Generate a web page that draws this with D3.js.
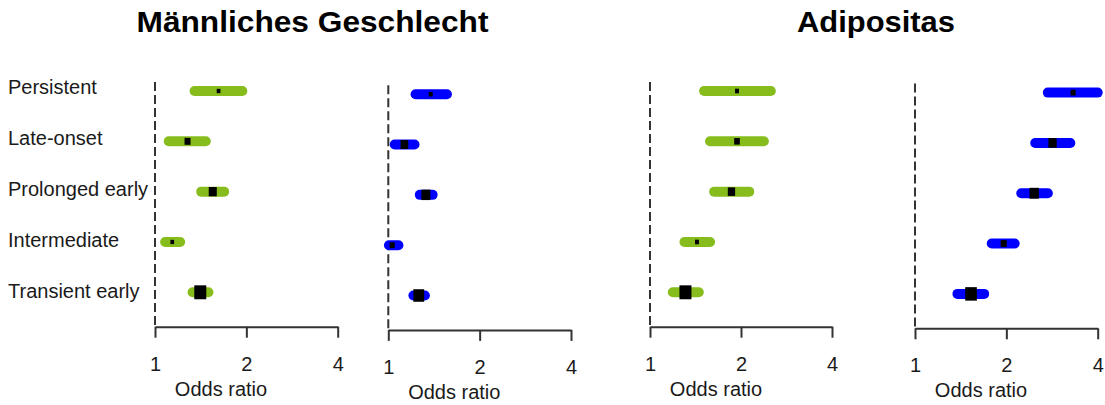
<!DOCTYPE html>
<html>
<head>
<meta charset="utf-8">
<script src="https://cdn.jsdelivr.net/npm/d3@7"></script>
<style>
  html, body { margin: 0; padding: 0; background: #fff; }
  svg { display: block; font-family: "Liberation Sans", Arial, sans-serif; }
</style>
</head>
<body>
<svg id="chart" width="1105" height="405"></svg>
<script>
// Trajectory groups (rows, top to bottom)
const categories = ["Persistent", "Late-onset", "Prolonged early", "Intermediate", "Transient early"];
const tickValues = [1, 2, 4];
const axisTitle = "Odds ratio";
const groupTitles = ["Männliches Geschlecht", "Adipositas"];

// Männliches Geschlecht – first model
const sexOR1    = [1.62, 1.28, 1.55, 1.14, 1.41];
const sexLower1 = [1.35, 1.11, 1.42, 1.08, 1.33];
const sexUpper1 = [1.94, 1.47, 1.69, 1.21, 1.50];
const sexWeight1 = [0.31, 0.50, 0.67, 0.31, 1.00];

// Männliches Geschlecht – second model
const sexOR2    = [1.38, 1.13, 1.33, 1.03, 1.26];
const sexLower2 = [1.23, 1.05, 1.27, 1.005, 1.21];
const sexUpper2 = [1.56, 1.22, 1.40, 1.08, 1.32];
const sexWeight2 = [0.33, 0.64, 0.75, 0.42, 0.90];

// Adipositas – first model
const obOR1    = [1.94, 1.94, 1.86, 1.43, 1.31];
const obLower1 = [1.51, 1.58, 1.63, 1.30, 1.19];
const obUpper1 = [2.51, 2.38, 2.13, 1.58, 1.45];
const obWeight1 = [0.33, 0.47, 0.61, 0.33, 1.00];

// Adipositas – second model
const obOR2    = [3.32, 2.84, 2.47, 1.96, 1.53];
const obLower2 = [2.74, 2.49, 2.24, 1.79, 1.38];
const obUpper2 = [4.00, 3.25, 2.74, 2.13, 1.69];
const obWeight2 = [0.42, 0.69, 0.78, 0.50, 0.97];

const GREEN = "#86bd1c";
const BLUE = "#0000ff";
const INK = "#1a1a1a";
const AXIS = "#333333";

const panels = [
  { or: sexOR1, lo: sexLower1, hi: sexUpper1, w: sexWeight1, color: GREEN, x0: 155,   x1: 337.7, dy: 0 },
  { or: sexOR2, lo: sexLower2, hi: sexUpper2, w: sexWeight2, color: BLUE,  x0: 388.3, x1: 571,   dy: 3.2 },
  { or: obOR1,  lo: obLower1,  hi: obUpper1,  w: obWeight1,  color: GREEN, x0: 650,   x1: 832,   dy: 0 },
  { or: obOR2,  lo: obLower2,  hi: obUpper2,  w: obWeight2,  color: BLUE,  x0: 915,   x1: 1097.7, dy: 1.6 }
];

const svg = d3.select("#chart");

// Titles over each pair of panels
const titleCenters = [312.5, 876];
const titleWidths = [352, 158];
groupTitles.forEach((t, i) => {
  svg.append("text")
    .attr("x", titleCenters[i])
    .attr("y", 32)
    .attr("text-anchor", "middle")
    .attr("font-size", 30)
    .attr("font-weight", "bold")
    .attr("fill", "#000")
    .attr("textLength", titleWidths[i])
    .attr("lengthAdjust", "spacingAndGlyphs")
    .text(t);
});

// Row labels on the left
const labelY = d3.scalePoint().domain(categories).range([93.5, 297.5]);
svg.append("g").selectAll("text")
  .data(categories)
  .join("text")
  .attr("x", 8)
  .attr("y", d => labelY(d))
  .attr("font-size", 20)
  .attr("fill", INK)
  .text(d => d);

const boxSize = d3.scaleLinear().domain([0, 1]).range([0, 12]);

panels.forEach(p => {
  const x = d3.scaleLog().base(2).domain([1, 4]).range([p.x0, p.x1]);
  const y = d3.scalePoint().domain(categories).range([91 + p.dy, 292.3 + p.dy]);
  const axisY = 326.7 + p.dy;
  const g = svg.append("g");

  // Reference line at OR = 1
  g.append("line")
    .attr("x1", x(1)).attr("x2", x(1))
    .attr("y1", 82 + p.dy).attr("y2", axisY)
    .attr("stroke", AXIS)
    .attr("stroke-width", 2)
    .attr("stroke-dasharray", "9,4");

  // Bottom axis
  const axis = d3.axisBottom(x)
    .tickValues(tickValues)
    .tickFormat(d3.format("d"))
    .tickSize(11)
    .tickSizeOuter(0)
    .tickPadding(20);
  const ax = g.append("g")
    .attr("transform", `translate(0,${axisY})`)
    .call(axis);
  ax.select(".domain").attr("stroke", AXIS).attr("stroke-width", 2);
  ax.selectAll(".tick line").attr("stroke", AXIS).attr("stroke-width", 2);
  ax.selectAll(".tick text")
    .attr("font-size", 20)
    .attr("font-family", "Liberation Sans, Arial, sans-serif")
    .attr("fill", INK)
    .attr("dy", null)
    .attr("y", 44);

  g.append("text")
    .attr("x", x(1) + 66)
    .attr("y", axisY + 69)
    .attr("text-anchor", "middle")
    .attr("font-size", 20)
    .attr("fill", INK)
    .text(axisTitle);

  // Confidence intervals
  g.selectAll("line.ci")
    .data(categories)
    .join("line")
    .attr("class", "ci")
    .attr("x1", (d, i) => x(p.lo[i]))
    .attr("x2", (d, i) => x(p.hi[i]))
    .attr("y1", d => y(d))
    .attr("y2", d => y(d))
    .attr("stroke", p.color)
    .attr("stroke-width", 10)
    .attr("stroke-linecap", "round");

  // Point estimates, box size by weight
  g.selectAll("rect.est")
    .data(categories)
    .join("rect")
    .attr("class", "est")
    .attr("x", (d, i) => x(p.or[i]) - boxSize(p.w[i]) / 2)
    .attr("y", (d, i) => y(d) - boxSize(p.w[i]) * 0.58)
    .attr("width", (d, i) => boxSize(p.w[i]))
    .attr("height", (d, i) => boxSize(p.w[i]) * 1.16)
    .attr("fill", "#000");
});
</script>
</body>
</html>
